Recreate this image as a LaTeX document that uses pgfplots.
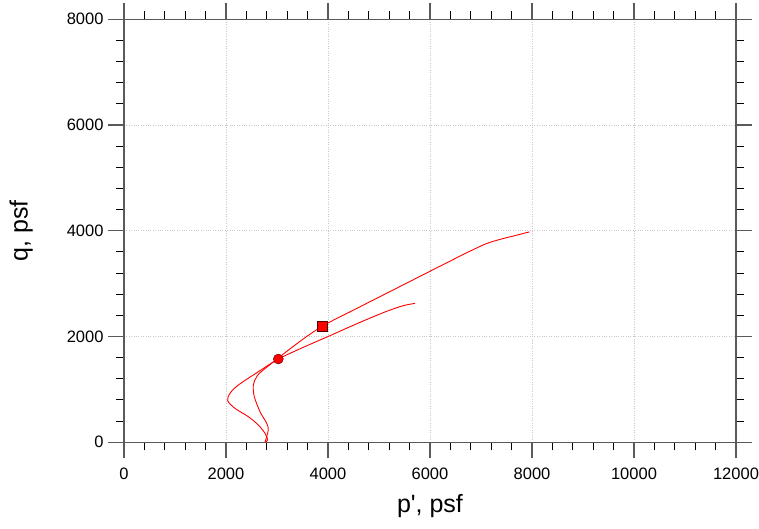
\documentclass[border=0pt]{standalone}
\usepackage{fontspec}
\setmainfont{Liberation Sans}
\usepackage{pgfplots}
\pgfplotsset{compat=1.18}
\definecolor{axgray}{RGB}{90,90,90}
\definecolor{gridgray}{RGB}{200,200,200}
\begin{document}
\begin{tikzpicture}[x=1pt,y=1pt]
\path[use as bounding box] (-124,-86.7) rectangle (635,442.3);
\begin{axis}[
  scale only axis,
  width=612pt, height=423pt,
  xmin=0, xmax=12000, ymin=0, ymax=8000,
  xtick={0,2000,...,12000}, ytick={0,2000,...,8000},
  minor x tick num=4, minor y tick num=4,
  tick align=outside,
  major tick length=16pt, minor tick length=8pt,
  xtick pos=both, ytick pos=both,
  xticklabel pos=left, yticklabel pos=left,
  axis line style={axgray, line width=1.2pt},
  every tick/.style={axgray, line width=1.2pt},
  every minor tick/.style={black, line width=1pt},
  grid=major,
  major grid style={gridgray, dotted, line width=0.8pt},
  scaled ticks=false,
  /pgf/number format/assume math mode=true,
  xticklabel={\pgfmathprintnumber[fixed,precision=0,1000 sep={}]{\tick}},
  yticklabel={\pgfmathprintnumber[fixed,precision=0,1000 sep={}]{\tick}},
  tick label style={font=\fontsize{16.5}{18}\selectfont},
  xticklabel style={yshift=-6pt},
  yticklabel style={xshift=-1pt},
  xlabel={p\textquotesingle, psf}, ylabel={q, psf},
  label style={font=\fontsize{25}{28}\selectfont},
  xlabel style={yshift=-8pt},
  ylabel style={yshift=27pt},
  clip=false,
]
% lower curve (outer branch)
\addplot[red, line width=0.9pt, smooth, tension=0.5] coordinates {
(2765,0) (2817,43) (2765,170) (2634,327) (2438,484) (2176,642) (2033,787)
(2078,926) (2242,1083) (2634,1335) (3026,1575) (3500,1790) (4000,2000)
(4500,2215) (5000,2420) (5300,2530) (5500,2590) (5706,2628)
};
% upper curve (inner branch)
\addplot[red, line width=0.9pt, smooth, tension=0.5] coordinates {
(2765,0) (2829,232) (2798,359) (2667,579) (2555,862) (2536,1083)
(2602,1240) (2731,1367) (3353,1839) (3882,2193) (4500,2500) (5000,2745)
(5500,2990) (6000,3235) (6400,3430) (6784,3615) (7112,3760) (7400,3845)
(7650,3905) (7950,3980)
};
\addplot[only marks, mark=*, mark size=5pt, draw=black!70!red, fill=red] coordinates {(3026,1575)};
\addplot[only marks, mark=square*, mark size=5.2pt, draw=black!70!red, fill=red] coordinates {(3882,2193)};
\end{axis}
\end{tikzpicture}
\end{document}
